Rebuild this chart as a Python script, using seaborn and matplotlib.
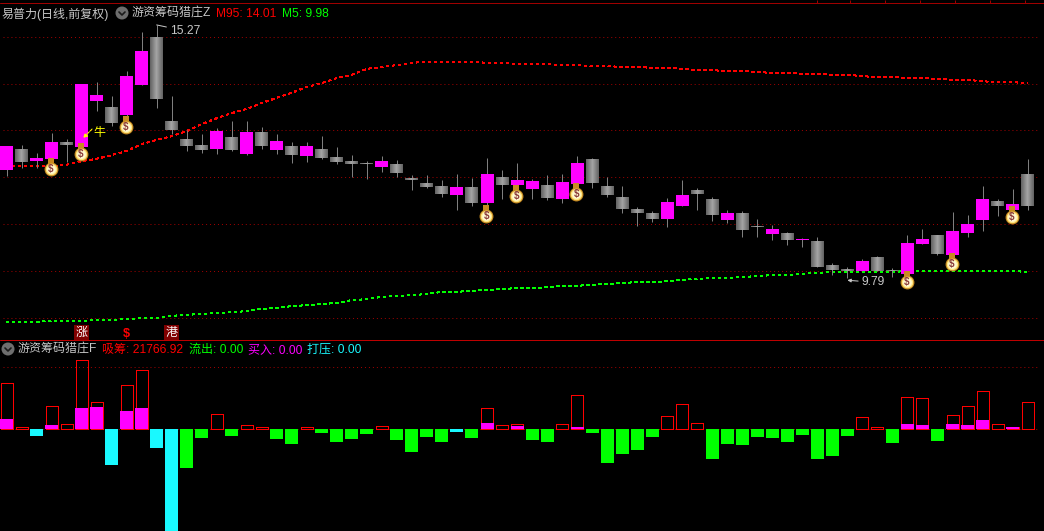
import numpy as np
import pandas as pd
import matplotlib
matplotlib.use("Agg")
import matplotlib.pyplot as plt
from matplotlib.patches import Circle
import seaborn as sns

W, H = 1044, 531
n = float("nan")

# daily candles, one value per trading day
opens = [12.13, 12.58, 12.32, 12.37, 12.73, 12.63, 13.62, 13.49, 13.32, 13.97,
         15.01, 13.19, 12.80, 12.67, 12.58, 12.84, 12.47, 12.95, 12.56, 12.65,
         12.43, 12.58, 12.41, 12.32, 12.28, 12.19, 12.26, 11.95, 11.85, 11.78,
         11.59, 11.76, 11.41, 11.98, 11.80, 11.72, 11.80, 11.50, 11.83, 12.37,
         11.78, 11.54, 11.28, 11.20, 11.07, 11.35, 11.69, 11.50, 11.05, 11.20,
         10.91, 10.74, 10.76, 10.61, 10.59, 10.07, 9.98, 9.94, 10.24, 9.96,
         9.88, 10.52, 10.72, 10.29, 10.76, 11.05, 11.46, 11.26, 12.04]
closes = [12.65, 12.30, 12.39, 12.73, 12.67, 13.99, 13.75, 13.15, 14.16, 14.71,
          13.67, 12.99, 12.65, 12.56, 12.97, 12.56, 12.95, 12.65, 12.76, 12.45,
          12.65, 12.39, 12.30, 12.26, 12.26, 12.32, 12.06, 11.91, 11.76, 11.61,
          11.76, 11.41, 12.04, 11.80, 11.91, 11.89, 11.52, 11.87, 12.28, 11.85,
          11.59, 11.28, 11.20, 11.07, 11.43, 11.59, 11.61, 11.15, 11.20, 10.83,
          10.89, 10.85, 10.61, 10.63, 10.03, 9.96, 9.94, 10.16, 9.94, 9.94,
          10.55, 10.63, 10.31, 10.81, 10.96, 11.50, 11.35, 11.39, 11.35]
highs = [12.65, 12.67, 12.50, 12.93, 12.80, 13.99, 14.03, 13.73, 14.27, 15.12,
         15.27, 13.73, 12.99, 12.91, 13.04, 13.19, 13.19, 13.06, 12.91, 12.73,
         12.73, 12.86, 12.63, 12.45, 12.32, 12.43, 12.34, 12.02, 12.02, 11.91,
         12.04, 11.95, 12.39, 12.13, 12.28, 11.93, 12.02, 12.04, 12.43, 12.39,
         11.98, 11.78, 11.33, 11.24, 11.52, 11.91, 11.74, 11.54, 11.26, 11.24,
         11.07, 10.94, 10.79, 10.66, 10.68, 10.11, 10.03, 10.20, 10.26, 10.01,
         10.72, 10.85, 10.72, 11.22, 11.15, 11.78, 11.50, 11.72, 12.37]
lows = [12.00, 12.17, 12.17, 12.34, 12.30, 12.63, 13.41, 13.08, 13.25, 13.97,
        13.47, 12.91, 12.54, 12.50, 12.47, 12.54, 12.45, 12.58, 12.47, 12.28,
        12.30, 12.37, 12.26, 11.98, 11.93, 12.08, 11.98, 11.69, 11.74, 11.54,
        11.26, 11.35, 11.30, 11.50, 11.74, 11.50, 11.48, 11.41, 11.76, 11.74,
        11.54, 11.20, 10.91, 11.00, 10.89, 11.35, 11.26, 11.02, 10.98, 10.68,
        10.68, 10.61, 10.50, 10.46, 10.03, 9.85, 9.79, 9.94, 9.94, 9.80,
        9.85, 10.52, 10.29, 10.24, 10.68, 10.81, 11.13, 11.24, 11.26]

m95 = [12.21, 12.21, 12.21, 12.21, 12.24, 12.32, 12.37, 12.45, 12.54, 12.69,
       12.78, 12.86, 12.97, 13.12, 13.25, 13.36, 13.45, 13.58, 13.69, 13.80,
       13.93, 14.01, 14.12, 14.19, 14.32, 14.36, 14.40, 14.45, 14.47, 14.47,
       14.47, 14.47, 14.45, 14.45, 14.42, 14.42, 14.42, 14.40, 14.40, 14.38,
       14.38, 14.36, 14.36, 14.34, 14.34, 14.32, 14.29, 14.29, 14.27, 14.27,
       14.25, 14.23, 14.23, 14.21, 14.21, 14.19, 14.19, 14.16, 14.14, 14.14,
       14.12, 14.12, 14.10, 14.08, 14.08, 14.05, 14.03, 14.03, 14.01]
m5 = [8.84, 8.84, 8.84, 8.86, 8.86, 8.86, 8.88, 8.88, 8.90, 8.92,
      8.92, 8.97, 8.99, 9.01, 9.03, 9.05, 9.07, 9.12, 9.14, 9.18,
      9.20, 9.22, 9.25, 9.31, 9.33, 9.38, 9.40, 9.42, 9.44, 9.49,
      9.49, 9.51, 9.53, 9.55, 9.57, 9.57, 9.59, 9.62, 9.62, 9.64,
      9.66, 9.68, 9.70, 9.70, 9.72, 9.75, 9.77, 9.79, 9.79, 9.81,
      9.83, 9.85, 9.85, 9.88, 9.90, 9.92, 9.92, 9.92, 9.92, 9.92,
      9.94, 9.94, 9.94, 9.94, 9.94, 9.94, 9.94, 9.94, 9.92]
m95_last, m5_last = 14.01, 9.98

grid_prices = [15.01, 14.00, 12.99, 11.98, 10.96, 9.95, 8.93]

# money-bag signals: day index and price level
bag_days = [3, 5, 8, 32, 34, 38, 60, 63, 67]
bag_prices = [12.15, 12.47, 13.06, 11.13, 11.56, 11.61, 9.70, 10.09, 11.11]

# lower panel, one value per trading day
absorb = [37100, 1600, n, 18500, 4000, 55600, 21800, n, 35500, 47600,
          n, n, n, n, 12100, n, 3200, 1600, n, n,
          1600, n, n, n, n, 2400, n, n, n, n,
          n, n, 16900, 3200, 4000, n, n, 4000, 27400, n,
          n, n, n, n, 10500, 20200, 4800, n, n, n,
          n, n, n, n, n, n, n, 9700, 1600, n,
          25800, 25000, n, 11300, 18500, 30600, 4000, 1600, 21766.92]
buy = [8100, n, n, 3200, n, 16900, 17700, n, 14500, 16900,
       n, n, n, n, n, n, n, n, n, n,
       n, n, n, n, n, n, n, n, n, n,
       n, n, 4800, n, 2400, n, n, n, 1600, n,
       n, n, n, n, n, n, n, n, n, n,
       n, n, n, n, n, n, n, n, n, n,
       4000, 3200, n, 4000, 3200, 7300, n, 1600, n]
outflow = [n, n, n, n, n, n, n, n, n, n,
           n, n, -31400, -7300, n, -5600, n, n, -8100, -12100,
           n, -3200, -10500, -8100, -4000, n, -8900, -18500, -6400, -10500,
           n, -7300, n, n, n, -8900, -10500, n, n, -3200,
           -27400, -20200, -16900, -6400, n, n, n, -24200, -12100, -12900,
           -6400, -7300, -10500, -4800, -24200, -21800, -5600, n, n, -11300,
           n, n, -9700, n, n, n, n, n, n]
press = [n, n, -5600, n, n, n, n, -29000, n, n,
         -15300, -82200, n, n, n, n, n, n, n, n,
         n, n, n, n, n, n, n, n, n, n,
         -2400, n, n, n, n, n, n, n, n, n,
         n, n, n, n, n, n, n, n, n, n,
         n, n, n, n, n, n, n, n, n, n,
         n, n, n, n, n, n, n, n, n]
lower_grid = [50000, 0]

sns.set_theme(style="dark", rc={"axes.facecolor": "black", "figure.facecolor": "black",
                                "savefig.facecolor": "black", "axes.grid": False})
plt.rcParams["font.family"] = ["Liberation Sans", "Noto Sans CJK SC", "DejaVu Sans"]
plt.rcParams["axes.unicode_minus"] = False

PX = 0.715
MAGENTA, GREEN, CYAN, RED = "#FF00FF", "#00FF00", "#19F9FF", "#FF0000"
GRID = "#A00000"
GREY = "#C8C8C8"
FS = 8.64
STEP = 15.016

fig = plt.figure(figsize=(W / 100, H / 100), dpi=100)
ax = fig.add_axes([0, 1 - 340 / H, 1, 340 / H])
ax2 = fig.add_axes([0, 0, 1, 190 / H])
ov = fig.add_axes([0, 0, 1, 1], zorder=10)
ov.set_xlim(0, W)
ov.set_ylim(H, 0)
ov.axis("off")
ov.patch.set_alpha(0)

days = np.arange(len(opens))
xlim = (-6.5 / STEP, (W - 6.5) / STEP)

o, c, hi, lo = map(np.array, (opens, closes, highs, lows))
up = c > o
top, bot = np.maximum(o, c), np.minimum(o, c)

# top panel ---------------------------------------------------------------
ax.hlines(grid_prices, xlim[0] + 0.2, xlim[1] - 0.4, color=GRID, lw=PX,
          linestyles=[(0, (1, 3))], zorder=1)
sns.lineplot(x=days, y=m95, ax=ax, color=RED, linewidth=PX, errorbar=None,
             linestyle=(0, (2.5, 3.5)), antialiased=False, zorder=2)
sns.lineplot(x=days, y=m5, ax=ax, color=GREEN, linewidth=PX, errorbar=None,
             linestyle=(0, (2.5, 3.5)), antialiased=False, zorder=2)
ax.vlines(days, lo, hi, color="#808080", lw=PX, zorder=3)
ax.bar(days[up], (top - bot)[up], bottom=bot[up], width=13 / STEP, color=MAGENTA,
       linewidth=0, zorder=4)
shades = ["#666666", "#707070", "#7A7A7A", "#858585", "#909090", "#9A9A9A", "#A2A2A2"]
for k, shade in enumerate(shades):
    ax.bar(days[~up], (top - bot)[~up], bottom=bot[~up], width=(13 - 2 * k) / STEP,
           color=shade, linewidth=0, zorder=4 + k * 0.01)

bx, by = np.array(bag_days) - 0.06, np.array(bag_prices) + 0.02
ax.scatter(bx, by + 0.16, s=14, marker="s", color="#C88A20", linewidths=0, zorder=6)
ax.scatter(bx, by - 0.02, s=84, marker="o", facecolor="#FFE680", edgecolor="#C88A20",
           linewidths=0.8, zorder=6)
ax.scatter(bx, by - 0.02, s=40, marker="o", facecolor="#FFF9D0", linewidths=0, zorder=6)
for d, p in zip(bx, by):
    ax.text(d, p - 0.02, "$", color="#8B3A3A", ha="center", va="center",
            fontsize=7, fontweight="bold", zorder=7)

hi_day, lo_day = int(np.argmax(hi)), int(np.argmin(lo))
ax.annotate(f"{hi.max():.2f}", xy=(hi_day, hi.max()), xytext=(13, -6),
            textcoords="offset pixels", color=GREY, fontsize=FS, va="center",
            arrowprops=dict(arrowstyle="-", color=GREY, lw=PX, shrinkA=0, shrinkB=0), zorder=8)
ax.annotate(f"{lo.min():.2f}", xy=(lo_day, lo.min() - 0.05), xytext=(14, -2),
            textcoords="offset pixels", color=GREY, fontsize=FS, va="center",
            arrowprops=dict(arrowstyle="-|>", color=GREY, lw=PX, shrinkA=0, shrinkB=0,
                            mutation_scale=5), zorder=8)
ax.annotate("", xy=(5.1, 12.82), xytext=(9, 9), textcoords="offset pixels",
            arrowprops=dict(arrowstyle="-|>", color="#FFFF00", lw=PX, shrinkA=0, shrinkB=0,
                            mutation_scale=6, linestyle=(0, (3, 1))), zorder=8)
ax.annotate("牛", xy=(5.1, 12.82), xytext=(10, 5), textcoords="offset pixels",
            color="#FFFF00", fontsize=FS, va="center", zorder=8)
badge = dict(facecolor="#800000", edgecolor="none", pad=1)
ax.text(5, 8.60, "涨", color="white", fontsize=FS, ha="center", va="center", bbox=badge)
ax.text(11, 8.60, "港", color="white", fontsize=FS, ha="center", va="center", bbox=badge)
ax.text(8, 8.57, "$", color=RED, fontsize=9, fontweight="bold", ha="center", va="center")

ax.set_xlim(*xlim)
ax.set_ylim(15.81 - 0.02166 * 340, 15.81)
ax.axis("off")

# lower panel -------------------------------------------------------------
df = pd.DataFrame({"day": days, "absorb": absorb, "buy": buy, "outflow": outflow, "press": press})
order = list(days)
ax2.hlines(lower_grid, xlim[0] + 0.2, xlim[1] - 0.4, color=GRID, lw=PX,
           linestyles=[(0, (1, 3))], zorder=0)
sns.barplot(data=df, x="day", y="absorb", order=order, ax=ax2, fill=False, color=RED,
            saturation=1, width=12 / STEP, gap=0, linewidth=0.7, errorbar=None, zorder=2)
for patch in ax2.patches:
    patch.set_edgecolor(RED)
    patch.set_antialiased(False)
    patch.set_snap(True)
for col, colour in (("buy", MAGENTA), ("outflow", GREEN), ("press", CYAN)):
    sns.barplot(data=df, x="day", y=col, order=order, ax=ax2, color=colour, saturation=1,
                width=13 / STEP, gap=0, linewidth=0, errorbar=None, zorder=3)
ax2.set_xlim(*xlim)
ax2.set_ylim(-(531 - 429) * 806.2, (429 - 341) * 806.2)
ax2.axis("off")

# frame lines and text ----------------------------------------------------
ov.plot([0, W], [3, 3], color="#A00000", lw=PX)
ov.plot([0, W], [340, 340], color="#C00000", lw=PX)
ov.vlines([817, 850, 885, 920, 955, 990, 1025], 0, 3, color="#A00000", lw=PX)


def icon(x, y):
    ov.add_patch(Circle((x, y), 6.5, facecolor="#6E6E6E", edgecolor="none"))
    ov.plot([x - 3, x, x + 3], [y - 1, y + 2, y - 1], color="#1A1A1A", lw=1.2)


icon(122, 13)
icon(8, 349)


def label(x, y, s, colour):
    ov.text(x, y, s, color=colour, fontsize=FS, ha="left", va="center")


label(2, 14, "易普力(日线,前复权)", GREY)
label(132, 14, "游资筹码猎庄Z", GREY)
label(216, 14, f"M95: {m95_last:.2f}", RED)
label(282, 14, f"M5: {m5_last:.2f}", GREEN)
label(18, 350, "游资筹码猎庄F", GREY)
label(102, 350, f"吸筹: {absorb[-1]:.2f}", RED)
label(189, 350, "流出: 0.00", GREEN)
label(248, 350, "买入: 0.00", MAGENTA)
label(307, 350, "打压: 0.00", CYAN)

fig.savefig("out.png", dpi=100)
